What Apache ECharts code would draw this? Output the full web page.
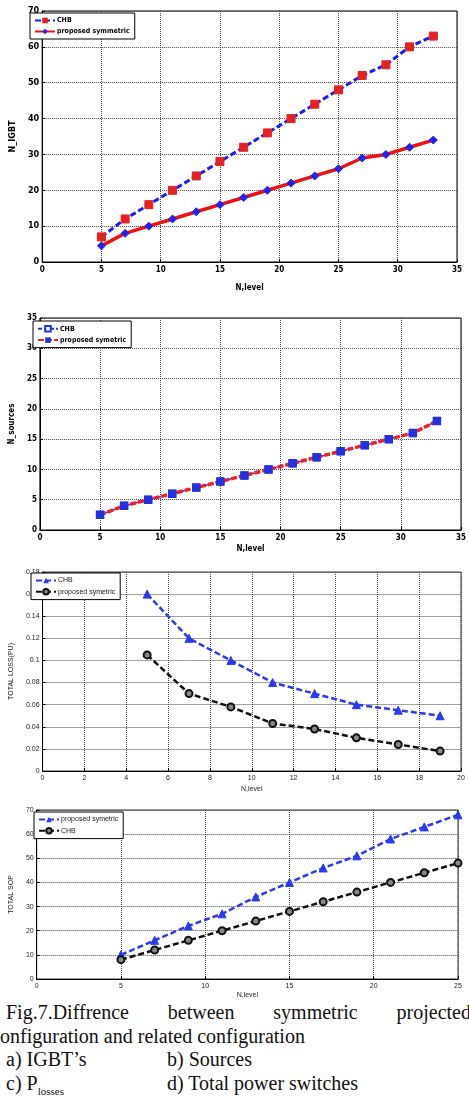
<!DOCTYPE html>
<html>
<head>
<meta charset="utf-8">
<script src="https://cdn.jsdelivr.net/npm/echarts@6/dist/echarts.min.js"></script>
<style>
  body { margin: 0; width: 469px; height: 1096px; overflow: hidden; background: #fff; position: relative; }
  #chart { position: absolute; left: 0; top: 0; width: 469px; height: 1000px; }
  .cap { position: absolute; font-family: "Liberation Serif", serif; font-size: 20px; color: #111; white-space: nowrap; line-height: 23px; }
  .just { text-align: justify; text-align-last: justify; white-space: normal; }
  sub { font-size: 11px; }
</style>
</head>
<body>
<div id="chart"></div>
<div class="cap just" style="left:6px; top:1001px; width:465px;">Fig.7.Diffrence between symmetric projected</div>
<div class="cap" style="left:0px; top:1025px;">onfiguration and related configuration</div>
<div class="cap" style="left:6px; top:1048px;">a) IGBT’s</div>
<div class="cap" style="left:167px; top:1048px;">b) Sources</div>
<div class="cap" style="left:6px; top:1072px;">c) P<sub>losses</sub></div>
<div class="cap" style="left:167px; top:1072px;">d) Total power switches</div>
<script>
// values
const levelsA = [5, 7, 9, 11, 13, 15, 17, 19, 21, 23, 25, 27, 29, 31, 33]
const chbIgbt = [7, 12, 16, 20, 24, 28, 32, 36, 40, 44, 48, 52, 55, 60, 63]
const symIgbt = [4.5, 8, 10, 12, 14, 16, 18, 20, 22, 24, 26, 29, 30, 32, 34]
const chbSources = [2.5, 4, 5, 6, 7, 8, 9, 10, 11, 12, 13, 14, 15, 16, 18]
const symSources = [2.5, 4, 5, 6, 7, 8, 9, 10, 11, 12, 13, 14, 15, 16, 18]
const levelsC = [5, 7, 9, 11, 13, 15, 17, 19]
const chbLoss = [0.16, 0.12, 0.1, 0.08, 0.07, 0.06, 0.055, 0.05]
const symLoss = [0.105, 0.07, 0.058, 0.043, 0.038, 0.03, 0.024, 0.018]
const levelsD = [5, 7, 9, 11, 13, 15, 17, 19, 21, 23, 25]
const symSop = [10, 16, 22, 27, 34, 40, 46, 51, 58, 63, 68]
const chbSop = [8, 12, 16, 20, 24, 28, 32, 36, 40, 44, 48]

const pairs = (xs, ys) => xs.map((x, i) => [x, ys[i]])

const sans = '"DejaVu Sans Condensed", "Liberation Sans", sans-serif'
const boldFont = { fontFamily: sans, fontWeight: 'bold', fontSize: 8, color: '#000' }
const thinFont = { fontFamily: '"Liberation Sans", sans-serif', fontSize: 7, color: '#222' }

function xAx(idx, max, interval, font, gap) {
  return {
    gridIndex: idx, type: 'value', min: 0, max: max, interval: interval,
    name: 'N,level', nameLocation: 'middle', nameGap: gap,
    nameTextStyle: Object.assign({}, font),
    axisLine: { show: true, lineStyle: { color: '#000', width: 1 } },
    axisTick: { show: true, inside: true, length: 3, lineStyle: { color: '#000' } },
    axisLabel: Object.assign({ margin: 4 }, font),
    splitLine: { show: true, lineStyle: { type: 'dotted', color: '#444', width: 1 } }
  }
}
function yAx(idx, max, interval, name, font, gap, fmt) {
  return {
    gridIndex: idx, type: 'value', min: 0, max: max, interval: interval,
    name: name, nameLocation: 'middle', nameGap: gap,
    nameTextStyle: Object.assign({}, font),
    axisLine: { show: true, lineStyle: { color: '#000', width: 1 } },
    axisTick: { show: true, inside: true, length: 3, lineStyle: { color: '#000' } },
    axisLabel: Object.assign({ margin: 3, formatter: fmt }, font),
    splitLine: { show: true, lineStyle: { type: 'dotted', color: '#444', width: 1 } }
  }
}
function legendBox(names, left, top, font) {
  return {
    data: names, left: left, top: top, orient: 'vertical', itemGap: 4,
    itemWidth: 20, itemHeight: 7, padding: [4, 5, 4, 4],
    backgroundColor: '#fff', borderColor: '#000', borderWidth: 1, borderRadius: 0,
    formatter: n => n.replace(/#\d$/, ''),
    textStyle: Object.assign({}, font, { fontSize: 7, padding: [0, 0, 0, -3] })
  }
}

const chart = echarts.init(document.getElementById('chart'))
const option = {
  animation: false,
  grid: [
    { left: 28, right: 12, top: 11, height: 251, show: true, borderColor: '#000', borderWidth: 1 },
    { left: 31, right: 8, top: 318, height: 212, show: true, borderColor: '#000', borderWidth: 1 },
    { left: 29, right: 8, top: 572, height: 199, show: true, borderColor: '#333', borderWidth: 1 },
    { left: 32, right: 11, top: 810, height: 171, show: true, borderColor: '#333', borderWidth: 1 }
  ],
  xAxis: [
    xAx(0, 35, 5, boldFont, 22),
    xAx(1, 35, 5, boldFont, 15),
    xAx(2, 20, 2, thinFont, 15),
    xAx(3, 25, 5, thinFont, 13)
  ],
  yAxis: [
    yAx(0, 70, 10, 'N_IGBT', Object.assign({}, boldFont, { fontSize: 9 }), 14),
    yAx(1, 35, 5, 'N_sources', boldFont, 14),
    yAx(2, 0.18, 0.02, 'TOTAL LOSS(PU)', thinFont, 18, v => (v === 0 ? '0' : String(+v.toFixed(2)))),
    yAx(3, 70, 10, 'TOTAL SOP', thinFont, 14)
  ],
  legend: [
    legendBox(['CHB#1', 'proposed symmetric#1'], 30, 13, boldFont),
    legendBox(['CHB#2', 'proposed symetric#2'], 33, 321, boldFont),
    legendBox(['CHB#3', 'proposed symetric#3'], 31, 573, thinFont),
    legendBox(['proposed symetric#4', 'CHB#4'], 34, 812, thinFont)
  ],
  series: [
    {
      name: 'CHB#1', type: 'line', xAxisIndex: 0, yAxisIndex: 0,
      data: pairs(levelsA, chbIgbt),
      lineStyle: { color: '#1a1aff', width: 3, type: [6, 3] },
      symbol: 'rect', symbolSize: 8,
      itemStyle: { color: '#e52222', borderColor: '#e52222' }
    },
    {
      name: 'proposed symmetric#1', type: 'line', xAxisIndex: 0, yAxisIndex: 0,
      data: pairs(levelsA, symIgbt),
      lineStyle: { color: '#ee1111', width: 3.5 },
      symbol: 'diamond', symbolSize: 8,
      itemStyle: { color: '#2222ee', borderColor: '#2222ee' }
    },
    {
      name: 'CHB#2', type: 'line', xAxisIndex: 1, yAxisIndex: 1,
      data: pairs(levelsA, chbSources),
      lineStyle: { color: '#2233ee', width: 1.5, type: [4, 2] },
      symbol: 'rect', symbolSize: 7,
      itemStyle: { color: '#fff', borderColor: '#2233ee', borderWidth: 1.5 }
    },
    {
      name: 'proposed symetric#2', type: 'line', xAxisIndex: 1, yAxisIndex: 1,
      data: pairs(levelsA, symSources),
      lineStyle: { color: '#ee2222', width: 3.5, type: [6, 2] },
      symbol: 'rect', symbolSize: 7,
      itemStyle: { color: '#2233dd', borderColor: '#2233dd' }
    },
    {
      name: 'CHB#3', type: 'line', xAxisIndex: 2, yAxisIndex: 2,
      data: pairs(levelsC, chbLoss),
      lineStyle: { color: '#2a3af0', width: 2.5, type: [6, 3] },
      symbol: 'triangle', symbolSize: 8,
      itemStyle: { color: '#2a3af0', borderColor: '#2a3af0' }
    },
    {
      name: 'proposed symetric#3', type: 'line', xAxisIndex: 2, yAxisIndex: 2,
      data: pairs(levelsC, symLoss),
      lineStyle: { color: '#111', width: 2.5, type: [6, 3] },
      symbol: 'circle', symbolSize: 7,
      itemStyle: { color: '#888', borderColor: '#111', borderWidth: 2 }
    },
    {
      name: 'proposed symetric#4', type: 'line', xAxisIndex: 3, yAxisIndex: 3,
      data: pairs(levelsD, symSop),
      lineStyle: { color: '#2a3af0', width: 2.5, type: [6, 3] },
      symbol: 'triangle', symbolSize: 8,
      itemStyle: { color: '#2a3af0', borderColor: '#2a3af0' }
    },
    {
      name: 'CHB#4', type: 'line', xAxisIndex: 3, yAxisIndex: 3,
      data: pairs(levelsD, chbSop),
      lineStyle: { color: '#111', width: 2.5, type: [6, 3] },
      symbol: 'circle', symbolSize: 7,
      itemStyle: { color: '#888', borderColor: '#111', borderWidth: 2 }
    }
  ]
}
chart.setOption(option)
</script>
</body>
</html>
